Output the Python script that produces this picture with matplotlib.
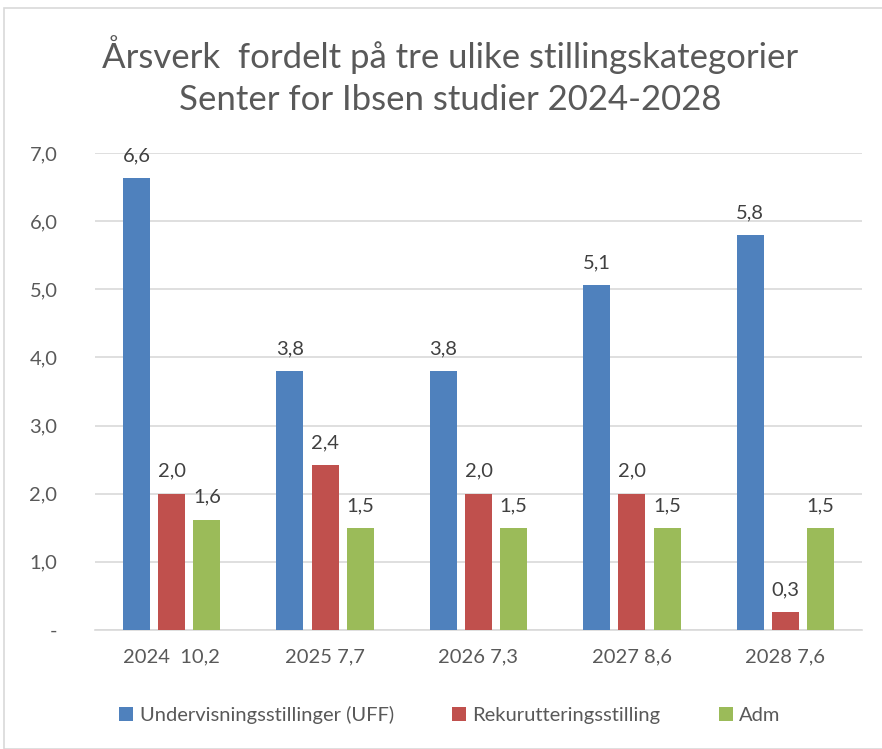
import matplotlib
matplotlib.use("Agg")
import matplotlib.pyplot as plt
import numpy as np
from matplotlib.patches import Rectangle

categories = ["2024  10,2", "2025 7,7", "2026 7,3", "2027 8,6", "2028 7,6"]
series_names = ["Undervisningsstillinger (UFF)", "Rekurutteringsstilling", "Adm"]
uff = [6.63, 3.8, 3.8, 5.06, 5.8]
rek = [2.0, 2.42, 2.0, 2.0, 0.26]
adm = [1.62, 1.5, 1.5, 1.5, 1.5]
colors = ["#4F81BD", "#C0504D", "#9BBB59"]
yticks = [0, 1, 2, 3, 4, 5, 6, 7]
ytick_labels = ["-", "1,0", "2,0", "3,0", "4,0", "5,0", "6,0", "7,0"]

plt.rcParams['font.family'] = ['Lato', 'DejaVu Sans']
txt = "#595959"

fig = plt.figure(figsize=(8.82, 7.49), dpi=100)
fig.patches.append(Rectangle((4/882, 0), 1, 1 - 8/749, transform=fig.transFigure,
                             fill=False, edgecolor="#D9D9D9", linewidth=1.2))
ax = fig.add_axes([95/882, 1 - 630/749, 767/882, (630 - 153)/749])

x = np.arange(len(categories))
w = 0.176
step = 0.229
for i, (vals, c, name) in enumerate(zip([uff, rek, adm], colors, series_names)):
    pos = x + (i - 1) * step
    bars = ax.bar(pos, vals, width=w, color=c, label=name, zorder=3)
    for b, v in zip(bars, vals):
        lbl = f"{v:.1f}".replace(".", ",")
        ax.annotate(lbl, (b.get_x() + b.get_width() / 2, v), xytext=(0, 10),
                    textcoords="offset points", ha="center", va="bottom",
                    fontsize=14.5, color="#404040")

ax.set_xlim(-0.5, len(categories) - 0.5)
ax.set_ylim(0, 7)
ax.set_yticks(yticks)
ax.set_yticklabels(ytick_labels)
ax.set_xticks(x)
ax.set_xticklabels(categories)
ax.tick_params(axis="both", length=0, labelsize=14.5, colors=txt)
ax.tick_params(axis="y", pad=27)
ax.tick_params(axis="x", pad=13)
ax.grid(axis="y", color="#D9D9D9", linewidth=1.2, zorder=0)
for s in ["top", "right", "left"]:
    ax.spines[s].set_visible(False)
ax.spines["bottom"].set_color("#D9D9D9")
ax.spines["bottom"].set_linewidth(1.2)

fig.text(0.51, 1 - 55/749, "Årsverk  fordelt på tre ulike stillingskategorier",
         ha="center", va="center", fontsize=25, color=txt)
fig.text(0.51, 1 - 100/749, "Senter for Ibsen studier 2024-2028",
         ha="center", va="center", fontsize=25, color=txt)

fig.legend(loc="center", bbox_to_anchor=(0.51, 1 - 715/749), ncol=3, frameon=False,
           fontsize=14.5, handlelength=0.7, handleheight=0.7, handletextpad=0.3,
           columnspacing=2.9, labelcolor=txt)

fig.savefig("out.png", dpi=100)
